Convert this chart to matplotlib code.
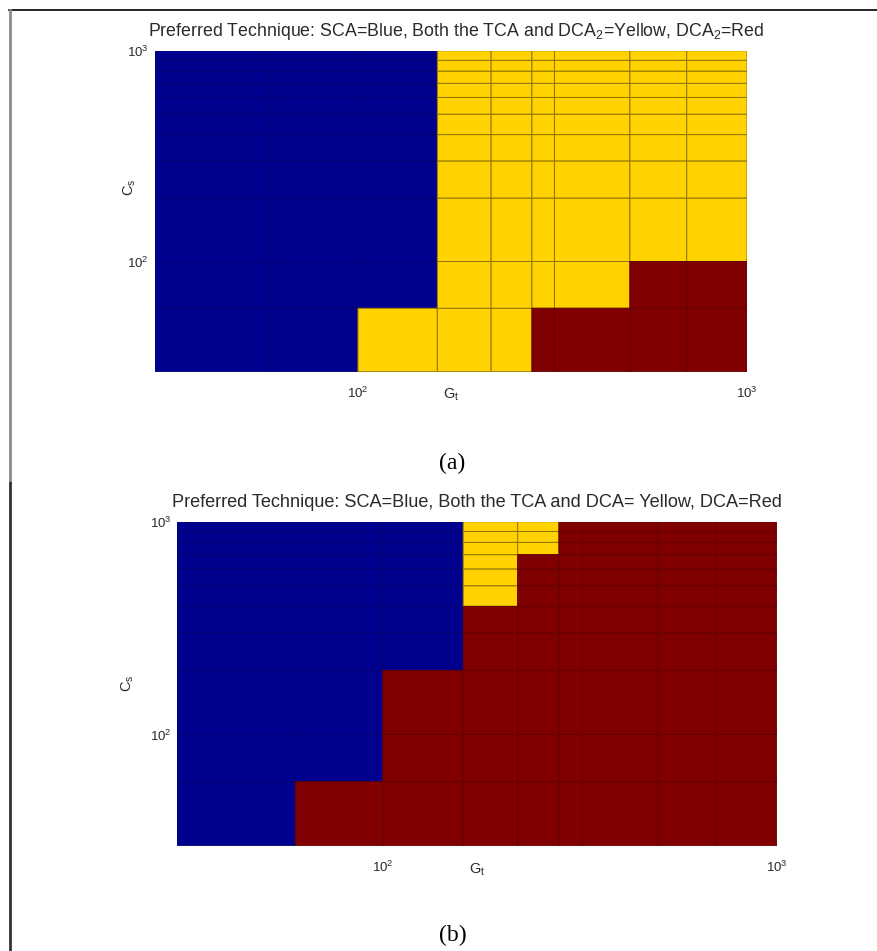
import numpy as np
import matplotlib
matplotlib.use("Agg")
from matplotlib import pyplot as plt
from matplotlib.colors import ListedColormap
from matplotlib.lines import Line2D

plt.rcParams["font.family"] = ["Liberation Sans", "DejaVu Sans"]
plt.rcParams["mathtext.fontset"] = "custom"
plt.rcParams["mathtext.rm"] = "Liberation Sans"
plt.rcParams["mathtext.it"] = "Liberation Sans:italic"

# grid of the parameter sweep (cell edges)
gt_edges = [30, 60, 100, 160, 220, 280, 320, 500, 700, 1000]
cs_edges = [30, 60, 100, 200, 300, 400, 500, 600, 700, 800, 900, 1000]

# per C_s band (bottom to top): number of G_t cells where SCA wins,
# then number of following cells where both TCA and DCA work; rest is DCA
sca_cells_a = [2, 3, 3, 3, 3, 3, 3, 3, 3, 3, 3]
both_cells_a = [3, 4, 6, 6, 6, 6, 6, 6, 6, 6, 6]
sca_cells_b = [1, 2, 2, 3, 3, 3, 3, 3, 3, 3, 3]
both_cells_b = [0, 0, 0, 0, 0, 1, 1, 1, 2, 2, 2]

title_a = "Preferred Technique: SCA=Blue, Both the TCA and DCA$_2$=Yellow, DCA$_2$=Red"
title_b = "Preferred Technique: SCA=Blue, Both the TCA and DCA= Yellow, DCA=Red"

# SCA, both, DCA
cell_colors = ["#00008F", "#FFD200", "#800000"]
edge_colors = ["#000070", "#8f7500", "#620000"]
TEXT = "#2a2a2a"
W, H = 877, 951


def technique_map(sca_cells, both_cells):
    ncols = len(gt_edges) - 1
    grid = np.full((len(sca_cells), ncols), 2)
    for row, (n_sca, n_both) in enumerate(zip(sca_cells, both_cells)):
        grid[row, :n_sca] = 0
        grid[row, n_sca:n_sca + n_both] = 1
    return grid


def px_axes(left, top, right, bottom):
    # pixel box -> figure fraction rect
    return [left / W, 1 - bottom / H, (right - left) / W, (bottom - top) / H]


def draw_panel(ax, grid, ylab_xy, xlab_y):
    # one layer per technique so each gets its own grid-line shade
    for k, color in enumerate(cell_colors):
        cells = np.ma.masked_where(grid != k, grid)
        ax.pcolor(gt_edges, cs_edges, cells, cmap=ListedColormap([color]),
                  vmin=k - 0.5, vmax=k + 0.5,
                  edgecolors=edge_colors[k], linewidth=0.7)
    ax.set_xscale("log")
    ax.set_yscale("log")
    ax.set_xlim(gt_edges[0], gt_edges[-1])
    ax.set_ylim(cs_edges[0], cs_edges[-1])
    ax.set_xticks([100, 1000])
    ax.set_yticks([100, 1000])
    ax.set_xticklabels(["$10^{2}$", "$10^{3}$"])
    ax.set_yticklabels(["$10^{2}$", "$10^{3}$"])
    ax.minorticks_off()
    ax.tick_params(length=0, labelsize=9.5, labelcolor=TEXT)
    ax.tick_params(axis="x", pad=10)
    ax.tick_params(axis="y", pad=4)
    for s in ax.spines.values():
        s.set_visible(False)
    ax.text(0.5, xlab_y, r"$\mathrm{G}_\mathrm{t}$", transform=ax.transAxes,
            ha="center", va="top", fontsize=10.5, color=TEXT)
    ax.text(ylab_xy[0], ylab_xy[1], r"$\mathrm{C}_\mathrm{s}$", transform=ax.transAxes,
            ha="center", va="center", rotation=90, fontsize=10.5, color=TEXT)


fig = plt.figure(figsize=(W / 100, H / 100), dpi=100)

ax_a = fig.add_axes(px_axes(154.5, 50.7, 747, 371.7))
draw_panel(ax_a, technique_map(sca_cells_a, both_cells_a), (-0.041, 0.575), -0.045)
fig.text(456 / W, 1 - 31 / H, title_a, ha="center", va="center", fontsize=12.8, color=TEXT)

ax_b = fig.add_axes(px_axes(176.8, 521.7, 776.7, 845.7))
draw_panel(ax_b, technique_map(sca_cells_b, both_cells_b), (-0.081, 0.502), -0.05)
fig.text(476.5 / W, 1 - 502 / H, title_b, ha="center", va="center", fontsize=13.1, color=TEXT)

fig.text(452 / W, 1 - 463 / H, "(a)", ha="center", va="center",
         fontsize=17, family="Liberation Serif", color="black")
fig.text(453 / W, 1 - 935 / H, "(b)", ha="center", va="center",
         fontsize=17, family="Liberation Serif", color="black")

# page frame
fig.add_artist(Line2D([9 / W, 1], [1 - 10 / H] * 2, transform=fig.transFigure,
                      color="black", lw=1.2))
fig.add_artist(Line2D([10 / W] * 2, [1 - 10 / H, 1 - 483 / H],
                      transform=fig.transFigure, color="#8a8a8a", lw=2))
fig.add_artist(Line2D([10 / W] * 2, [1 - 483 / H, 0], transform=fig.transFigure,
                      color="#333333", lw=2))

fig.savefig("out.png", dpi=100)
